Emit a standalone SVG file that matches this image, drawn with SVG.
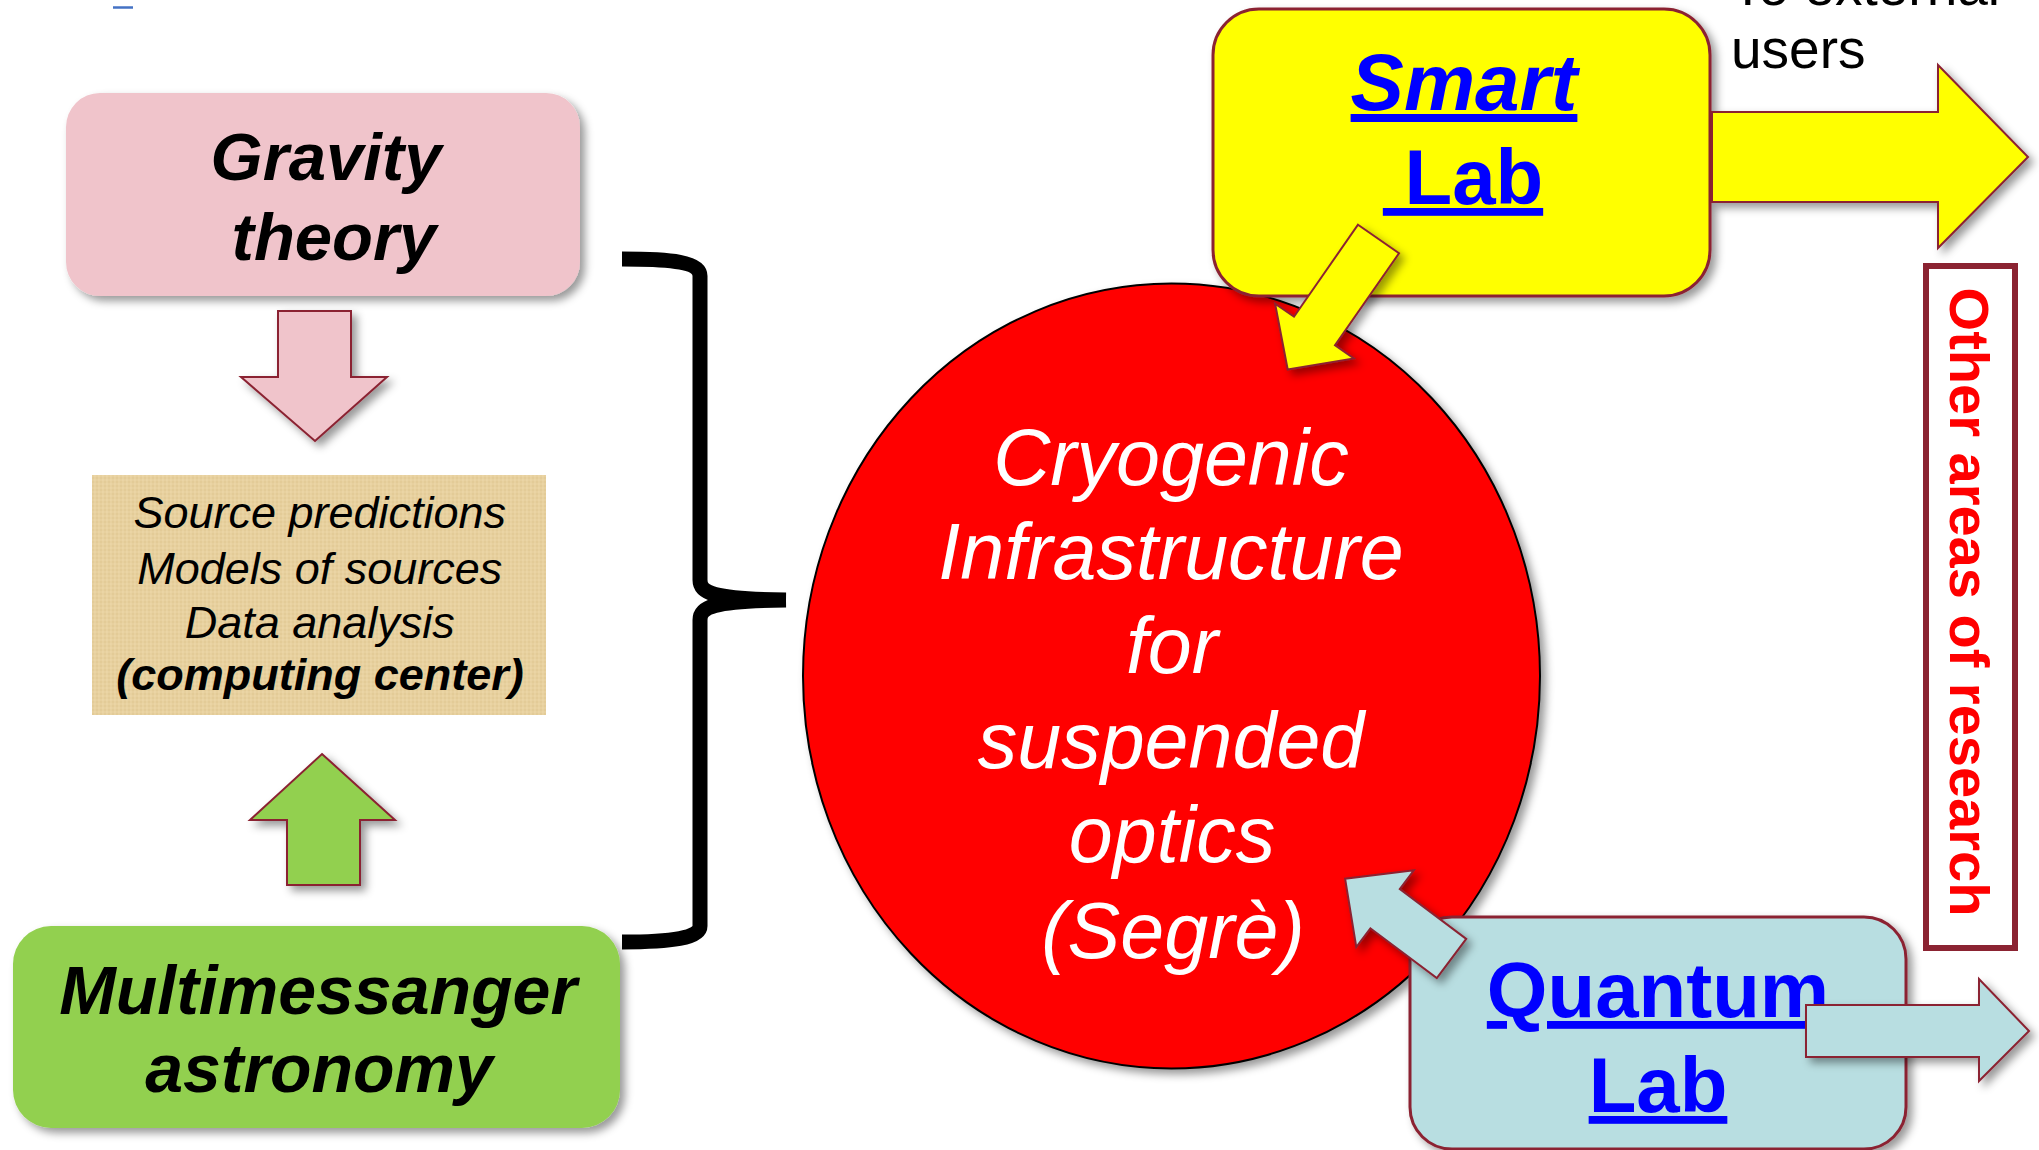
<svg xmlns="http://www.w3.org/2000/svg" width="2039" height="1150" viewBox="0 0 2039 1150">
<style>
.sans{font-family:"Liberation Sans",Arial,sans-serif}
.bi{font-weight:bold;font-style:italic}
.b{font-weight:bold}
.i{font-style:italic}
.arrow{stroke:#8B2332;stroke-width:2;stroke-linejoin:miter}
.link{fill:#0000FF;text-decoration:underline}
</style>
<defs>
<filter id="sh" x="-10%" y="-10%" width="130%" height="130%">
<feDropShadow dx="5" dy="5" stdDeviation="4" flood-color="#000" flood-opacity="0.4"/>
</filter>
<pattern id="papyrus" width="8" height="8" patternUnits="userSpaceOnUse">
<rect width="8" height="8" fill="#E7D09E"/>
<path d="M0 2H8M0 6H8" stroke="#D8BC82" stroke-width="1" opacity="0.5"/>
<path d="M3 0V8M7 0V8" stroke="#F2E0B4" stroke-width="1" opacity="0.6"/>
</pattern>
</defs>
<rect width="2039" height="1150" fill="#FFFFFF"/>
<line x1="113" y1="7.5" x2="133" y2="7.5" stroke="#4472C4" stroke-width="2.5"/>

<g id="gravity-theory">
<rect x="66" y="93" width="514" height="203" rx="34" fill="#F0C4CB" filter="url(#sh)"/>
<text class="sans bi" font-size="67" text-anchor="middle"><tspan x="326" y="180">Gravity</tspan><tspan x="334" y="260">theory</tspan></text>
</g>

<g id="source-predictions">
<rect x="92" y="475" width="454" height="240" fill="url(#papyrus)"/>
<text class="sans i" font-size="45" text-anchor="middle" fill="#000">
<tspan x="326" y="528">Source predictions</tspan>
<tspan x="326" y="584">Models of sources</tspan>
<tspan x="326" y="638">Data analysis</tspan>
<tspan x="320" y="690" font-weight="bold">(computing center)</tspan>
</text>
</g>

<g id="multimessanger-astronomy">
<rect x="13" y="926" width="607" height="202" rx="38" fill="#92D050" filter="url(#sh)"/>
<text class="sans bi" font-size="68" text-anchor="middle"><tspan x="318" y="1014">Multimessanger</tspan><tspan x="319" y="1092">astronomy</tspan></text>
</g>

<g id="cryogenic-infrastructure">
<ellipse cx="1171.5" cy="676" rx="368.5" ry="392.5" fill="#FF0000" stroke="#000" stroke-width="2" filter="url(#sh)"/>
<text class="sans i" font-size="79" fill="#FFFFFF" text-anchor="middle">
<tspan x="1182" y="485">Cryogenic</tspan>
<tspan x="1182" y="579">Infrastructure</tspan>
<tspan x="1183" y="673">for</tspan>
<tspan x="1182" y="768">suspended</tspan>
<tspan x="1183" y="862">optics</tspan>
<tspan x="1173" y="958">(Segrè)</tspan>
</text>
</g>

<g id="smart-lab">
<rect x="1213" y="9" width="497" height="287" rx="46" fill="#FFFF00" stroke="#8B2332" stroke-width="3" filter="url(#sh)"/>
<text class="sans bi link" font-size="80" text-anchor="middle" x="1464" y="110">Smart</text>
<text class="sans b link" font-size="78" text-anchor="middle" x="1463" y="204" xml:space="preserve"> Lab</text>
</g>

<g id="external-users">
<text class="sans" font-size="55" fill="#000"><tspan x="1731" y="5">To external</tspan><tspan x="1731" y="68">users</tspan></text>
</g>

<g id="other-areas">
<rect x="1926" y="266" width="89" height="682" fill="#FFFFFF" stroke="#8B2332" stroke-width="6"/>
<text class="sans b" font-size="56" fill="#FF0000" text-anchor="middle" transform="translate(1950,602) rotate(90)">Other areas of research</text>
</g>

<g id="quantum-lab">
<rect x="1410" y="917" width="496" height="232" rx="42" fill="#B8DEE1" stroke="#8B2332" stroke-width="3" filter="url(#sh)"/>
<text class="sans b link" font-size="78" text-anchor="middle" x="1658" y="1017">Quantum</text>
<text class="sans b link" font-size="78" text-anchor="middle" x="1658" y="1112">Lab</text>
</g>

<g id="connectors">
<polygon class="arrow" fill="#F0C4CB" filter="url(#sh)" points="278,311 351,311 351,377 387,377 315,441 241,377 278,377"/>
<polygon class="arrow" fill="#92D050" filter="url(#sh)" points="322,754 395,820 360,820 360,885 287,885 287,820 250,820"/>
<path fill="none" stroke="#000" stroke-width="15" d="M622 259 C672 259 700 262 700 276 L700 580 C700 593 712 599 786 600 M786 600 C712 601 700 607 700 620 L700 926 C700 938 672 942 622 942"/>
<polygon class="arrow" fill="#FFFF00" filter="url(#sh)" points="1712,112 1938,112 1938,65 2028,157 1938,248 1938,202 1712,202"/>
<polygon class="arrow" fill="#FFFF00" stroke-width="1.5" filter="url(#sh)" points="1358,224.7 1399,253.3 1335,345.3 1353.9,358.4 1287.7,369.5 1275.1,303.6 1294,316.7"/>
<polygon class="arrow" fill="#B8DEE1" stroke-width="1.5" filter="url(#sh)" points="1806,1005 1979,1005 1979,979 2029,1031 1979,1081 1979,1057 1806,1057"/>
<polygon class="arrow" fill="#B8DEE1" stroke-width="1.5" filter="url(#sh)" points="1466.2,938.9 1399.8,889.1 1413.9,870.3 1345.1,878.7 1356.3,947.1 1370.4,928.3 1436.8,978.1"/>
</g>
</svg>
